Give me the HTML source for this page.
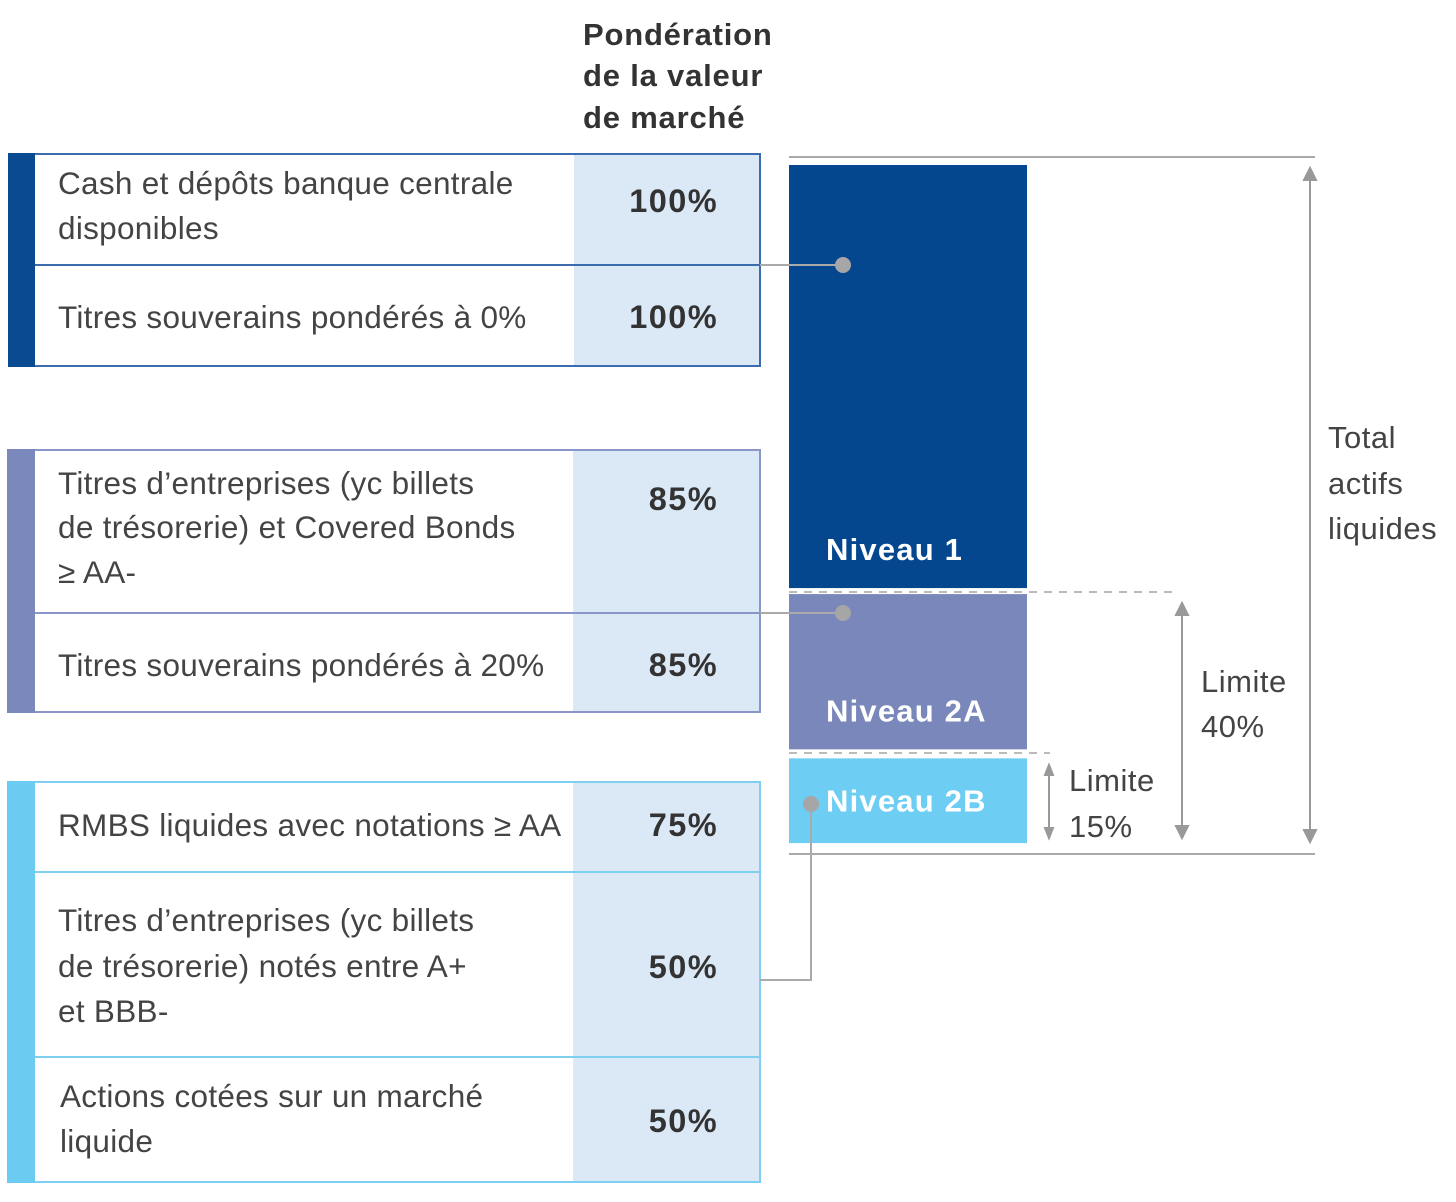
<!DOCTYPE html>
<html><head><meta charset="utf-8">
<style>
html,body{margin:0;padding:0;background:#fff;}
svg{display:block;font-family:"Liberation Sans",sans-serif;}
.t{font-size:31.5px;fill:#444;letter-spacing:0.3px;}
.p{font-size:32.5px;font-weight:bold;fill:#333;letter-spacing:1.4px;}
.h{font-size:31px;font-weight:bold;fill:#333;letter-spacing:0.8px;}
.bl{font-size:31px;font-weight:bold;fill:#fff;letter-spacing:1.2px;}
.s{font-size:31px;fill:#444;letter-spacing:0.5px;}
</style></head><body>
<svg id="c" width="1456" height="1202" viewBox="0 0 1456 1202">
<g>
<text class="h" x="583" y="45">Pondération</text>
<text class="h" x="583" y="86">de la valeur</text>
<text class="h" x="583" y="128">de marché</text>
</g>
<g>
<rect x="574" y="154" width="186" height="212" fill="#dbe9f7"/>
<rect x="9" y="154" width="751" height="212" fill="none" stroke="#3a6cae" stroke-width="2"/>
<rect x="8" y="153" width="27" height="214" fill="#0a4a90"/>
<line x1="35" y1="265" x2="760" y2="265" stroke="#3a6cae" stroke-width="2"/>
<text class="t" x="58" y="194">Cash et dépôts banque centrale</text>
<text class="t" x="58" y="239">disponibles</text>
<text class="p" x="718" y="212" text-anchor="end">100%</text>
<text class="t" x="58" y="328">Titres souverains pondérés à 0%</text>
<text class="p" x="718" y="328" text-anchor="end">100%</text>
</g>
<g>
<rect x="573" y="450" width="187" height="262" fill="#dbe9f7"/>
<rect x="8" y="450" width="752" height="262" fill="none" stroke="#8a96c8" stroke-width="2"/>
<rect x="7" y="449" width="28" height="264" fill="#7a88bc"/>
<line x1="35" y1="613" x2="760" y2="613" stroke="#8a96c8" stroke-width="2"/>
<text class="t" x="58" y="494">Titres d’entreprises (yc billets</text>
<text class="t" x="58" y="538">de trésorerie) et Covered Bonds</text>
<text class="t" x="58" y="583">≥ AA-</text>
<text class="p" x="718" y="510" text-anchor="end">85%</text>
<text class="t" x="58" y="676">Titres souverains pondérés à 20%</text>
<text class="p" x="718" y="676" text-anchor="end">85%</text>
</g>
<g>
<rect x="573" y="782" width="187" height="400" fill="#dbe9f7"/>
<rect x="8" y="782" width="752" height="400" fill="none" stroke="#7fd0f0" stroke-width="2"/>
<rect x="7" y="781" width="28" height="402" fill="#6ccbf0"/>
<line x1="35" y1="872" x2="760" y2="872" stroke="#7fd0f0" stroke-width="2"/>
<line x1="35" y1="1057" x2="760" y2="1057" stroke="#7fd0f0" stroke-width="2"/>
<text class="t" x="58" y="836">RMBS liquides avec notations ≥ AA</text>
<text class="p" x="718" y="836" text-anchor="end">75%</text>
<text class="t" x="58" y="931">Titres d’entreprises (yc billets</text>
<text class="t" x="58" y="977">de trésorerie) notés entre A+</text>
<text class="t" x="58" y="1022">et BBB-</text>
<text class="p" x="718" y="978" text-anchor="end">50%</text>
<text class="t" x="60" y="1107">Actions cotées sur un marché</text>
<text class="t" x="60" y="1152">liquide</text>
<text class="p" x="718" y="1132" text-anchor="end">50%</text>
</g>
<g id="bars"></g>
<g>
<line x1="789" y1="157" x2="1315" y2="157" stroke="#aaa" stroke-width="2"/>
<line x1="789" y1="854" x2="1315" y2="854" stroke="#aaa" stroke-width="2"/>
<line x1="789" y1="592" x2="1175" y2="592" stroke="#bbb" stroke-width="2" stroke-dasharray="8,7"/>
<line x1="789" y1="753" x2="1050" y2="753" stroke="#bbb" stroke-width="2" stroke-dasharray="8,7"/>
<g stroke="#999" stroke-width="2" fill="#999">
<line x1="1310" y1="172" x2="1310" y2="838"/>
<path d="M1304 180 L1310 168 L1316 180Z M1304 830 L1310 842 L1316 830Z"/>
<line x1="1182" y1="607" x2="1182" y2="834"/>
<path d="M1176 615 L1182 603 L1188 615Z M1176 826 L1182 838 L1188 826Z"/>
<line x1="1049" y1="767" x2="1049" y2="834"/>
<path d="M1045 775 L1049 765 L1053 775Z M1045 828 L1049 838 L1053 828Z"/>
</g>
<text class="s" x="1328" y="448">Total</text>
<text class="s" x="1328" y="494">actifs</text>
<text class="s" x="1328" y="539">liquides</text>
<text class="s" x="1201" y="692">Limite</text>
<text class="s" x="1201" y="737">40%</text>
<text class="s" x="1069" y="791">Limite</text>
<text class="s" x="1069" y="837">15%</text>
</g>
<g stroke="#aaa" stroke-width="2" fill="none">
<polyline points="760,265 843,265"/>
<polyline points="760,613 843,613"/>
<polyline points="760,980 811,980 811,804"/>
</g>
<g fill="#a6a6a6">
<circle cx="843" cy="265" r="8"/>
<circle cx="843" cy="613" r="8"/>
<circle cx="811" cy="804" r="8"/>
</g>
</svg>
<script>
const levels = ["Niveau 1", "Niveau 2A", "Niveau 2B"];
const shares = [62.4, 22.9, 12.5];
const colors = ["#04478f", "#7a87bb", "#6dcdf3"];
const NS = "http://www.w3.org/2000/svg";
const g = document.getElementById("bars");
const yTop = 165, pxPerUnit = 678 / 100, gaps = [0, 6, 9];
const x0 = 789, w = 238;
function yScale(v){ return v * pxPerUnit; }
let y = yTop;
levels.forEach((name, i) => {
  y += gaps[i];
  const h = yScale(shares[i]);
  const r = document.createElementNS(NS, "rect");
  r.setAttribute("x", x0); r.setAttribute("y", y);
  r.setAttribute("width", w); r.setAttribute("height", h);
  r.setAttribute("fill", colors[i]);
  
  
  g.appendChild(r);
  const t = document.createElementNS(NS, "text");
  t.setAttribute("class", "bl");
  t.setAttribute("x", 826);
  t.setAttribute("y", i === 2 ? y + h / 2 + 11 : y + h - 28);
  t.textContent = name;
  
  
  g.appendChild(t);
  y += h;
});
</script>
</body></html>
